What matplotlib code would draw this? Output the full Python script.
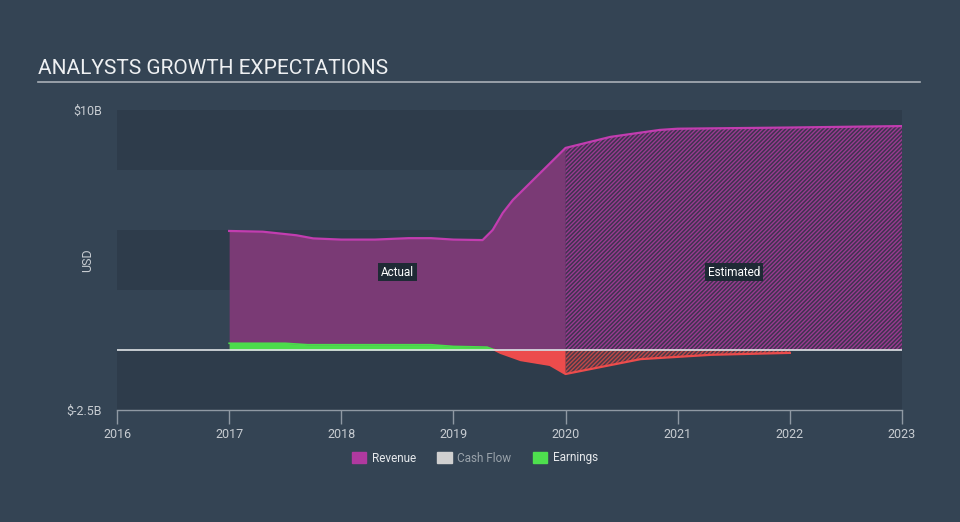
import matplotlib
matplotlib.use("Agg")
import matplotlib.pyplot as plt
from matplotlib.patches import Patch
from matplotlib.lines import Line2D
import numpy as np

plt.rcParams['font.family'] = ['Roboto', 'DejaVu Sans']
plt.rcParams['hatch.linewidth'] = 1.0

# ---- data (billions USD) ----
rev_years = [2017.0, 2017.3, 2017.6, 2017.75, 2018.0, 2018.3, 2018.6, 2018.8, 2019.0,
             2019.26, 2019.35, 2019.44, 2019.53, 2020.0, 2020.4, 2020.84, 2021.0, 2022.0, 2023.0]
revenue = [4.96, 4.93, 4.78, 4.65, 4.6, 4.6, 4.66, 4.66, 4.6,
           4.58, 5.0, 5.71, 6.25, 8.42, 8.88, 9.17, 9.22, 9.27, 9.33]

earn_years = [2017.0, 2017.5, 2017.7, 2018.5, 2018.8, 2019.0, 2019.3, 2019.37,
              2019.42, 2019.6, 2019.86, 2020.0, 2020.67, 2021.3, 2022.0]
earnings = [0.28, 0.28, 0.22, 0.22, 0.22, 0.15, 0.12, 0.0,
            -0.12, -0.42, -0.62, -1.0, -0.38, -0.2, -0.12]

x_ticks = [2016, 2017, 2018, 2019, 2020, 2021, 2022, 2023]
y_ticks = [10, -2.5]
y_tick_labels = ["$10B", "$-2.5B"]
split_year = 2020.0

# ---- style ----
BG = '#344454'
BAND = '#2e3c4b'
REV_LINE = '#c23db0'
REV_FILL = '#7a3a75'
REV_HATCH_FACE = '#3f3350'
REV_HATCH = '#9a3a90'
GREEN = '#4cdc4c'
RED = '#ec4c4c'
TXT = '#c8cdd2'

fig = plt.figure(figsize=(9.6, 5.22), dpi=100, facecolor=BG)
W, H = 960, 522
ax = fig.add_axes([117 / W, 1 - 410 / H, (902 - 117) / W, 300 / H])
ax.set_facecolor(BG)
ax.set_xlim(2016, 2023)
ax.set_ylim(-2.5, 10)

# background bands
for lo, hi in [(7.5, 10), (2.5, 5), (-2.5, 0)]:
    ax.axhspan(lo, hi, color=BAND, lw=0, zorder=0)

rx = np.array(rev_years)
ry = np.array(revenue)
act = rx <= split_year
est = rx >= split_year

# Revenue actual
ax.fill_between(rx[act], 0, ry[act], color=REV_FILL, lw=0, zorder=2)
# Revenue estimated (hatched)
ax.fill_between(rx[est], 0, ry[est], facecolor=REV_HATCH_FACE, edgecolor=REV_HATCH,
                hatch='////////', lw=0, zorder=2)
ax.plot(rx, ry, color=REV_LINE, lw=1.6, zorder=4)

# Earnings
ex = np.array(earn_years)
ey = np.array(earnings)
eact = ex <= split_year
eest = ex >= split_year
ax.fill_between(ex[eact], 0, ey[eact], where=ey[eact] >= 0, interpolate=True,
                color=GREEN, lw=0, zorder=3)
ax.fill_between(ex[eact], 0, ey[eact], where=ey[eact] <= 0, interpolate=True,
                color=RED, lw=0, zorder=3)
ax.fill_between(ex[eest], 0, ey[eest], facecolor='#4a3a48', edgecolor='#c04848',
                hatch='////////', lw=0, zorder=3)
pos = ey >= 0
ax.plot(ex[pos], ey[pos], color=GREEN, lw=1.2, zorder=4)
ax.plot(ex[ex >= 2019.37], ey[ex >= 2019.37], color=RED, lw=1.6, zorder=4)

# zero line
ax.axhline(0, color='#dfe3e6', lw=1.2, zorder=5)

# labels
bbox = dict(boxstyle='square,pad=0.25', fc='#1f2a35', ec='none')
ax.text(2018.5, 3.25, 'Actual', color='white', fontsize=8.5, ha='center', va='center', bbox=bbox, zorder=6)
ax.text(2021.5, 3.25, 'Estimated', color='white', fontsize=8.5, ha='center', va='center', bbox=bbox, zorder=6)

# axes styling
for s in ['top', 'right', 'left']:
    ax.spines[s].set_visible(False)
ax.spines['bottom'].set_color('#8f99a3')
ax.spines['bottom'].set_linewidth(1.0)
ax.set_xticks(x_ticks)
ax.set_xticklabels([str(t) for t in x_ticks])
ax.tick_params(axis='x', colors='#8f99a3', length=10, width=1, labelcolor=TXT, labelsize=9, pad=3)
ax.set_yticks(y_ticks)
ax.set_yticklabels(y_tick_labels)
ax.tick_params(axis='y', length=0, labelcolor=TXT, labelsize=9, pad=11)
fig.text(88 / W, 1 - 260 / H, 'USD', color=TXT, fontsize=9, rotation=90, ha='center', va='center')

# title
fig.text(38 / W, 1 - 69 / H, 'ANALYSTS GROWTH EXPECTATIONS', color='#eef0f2', fontsize=15,
         ha='left', va='center')
fig.add_artist(Line2D([38 / W, 920 / W], [1 - 82 / H, 1 - 82 / H], color='#a9b0b7', lw=1.2,
                      transform=fig.transFigure))

# legend
handles = [Patch(color='#b0399f'), Patch(color='#d0d0d0'), Patch(color='#4ee04e')]
leg = fig.legend(handles, ['Revenue', 'Cash Flow', 'Earnings'], ncol=3, loc='center',
                 bbox_to_anchor=(475 / W, 1 - 458 / H), frameon=False, fontsize=8.5,
                 handlelength=1.2, handleheight=1.0, columnspacing=1.8, handletextpad=0.5)
for t, c in zip(leg.get_texts(), ['#e6e9ec', '#9aa3ab', '#e6e9ec']):
    t.set_color(c)

fig.savefig('out.png', dpi=100, facecolor=BG)
